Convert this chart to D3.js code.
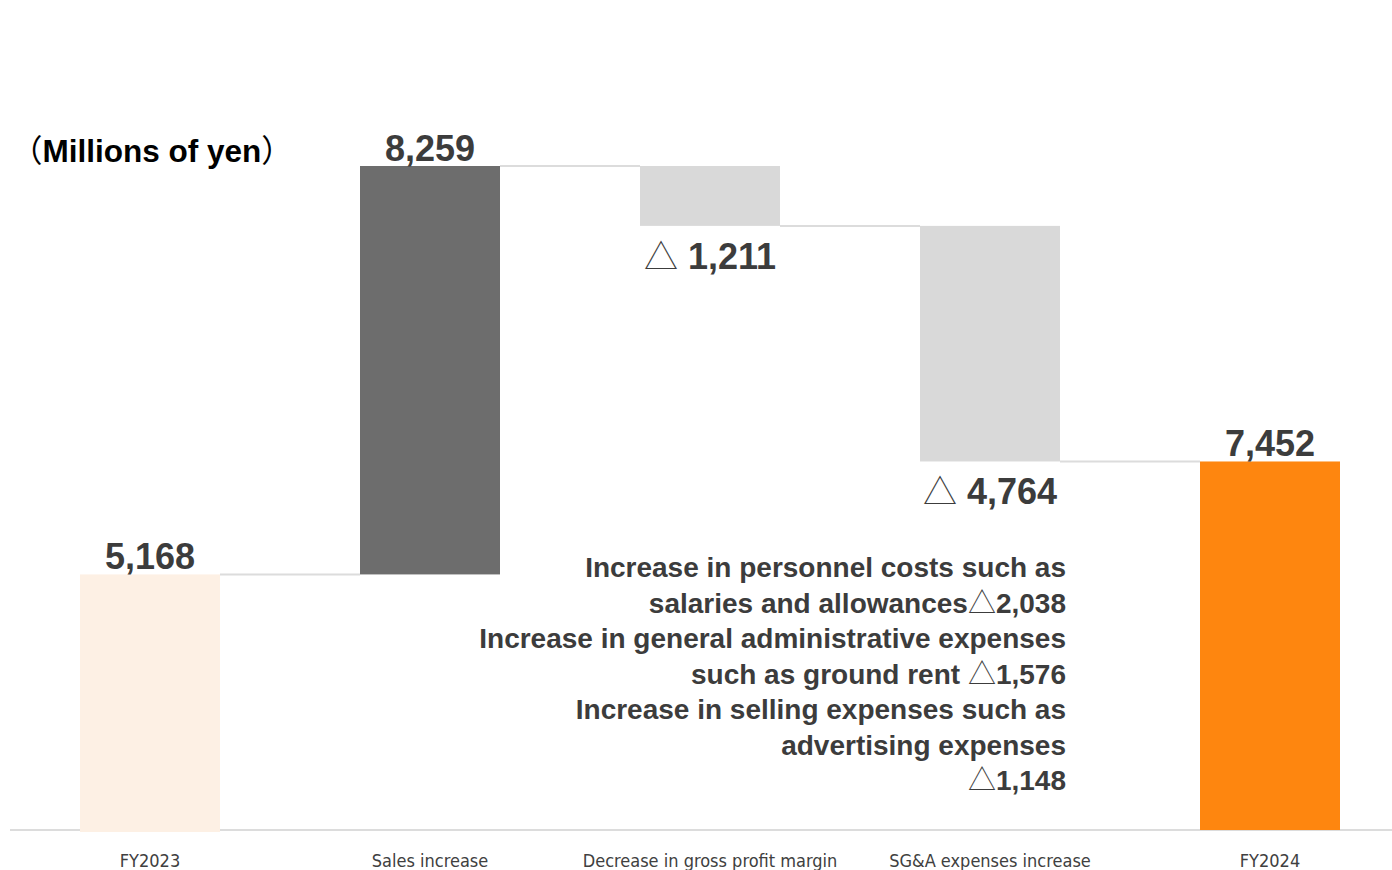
<!DOCTYPE html>
<html>
<head>
<meta charset="utf-8">
<script src="https://cdn.jsdelivr.net/npm/d3@7"></script>
<style>
  html, body { margin: 0; padding: 0; background: #fff; }
  svg { display: block; }
</style>
</head>
<body>
<svg id="chart" width="1392" height="870"></svg>
<script>
// Operating profit bridge, FY2023 → FY2024 (millions of yen)
const categories = ["FY2023", "Sales increase", "Decrease in gross profit margin", "SG&A expenses increase", "FY2024"];
const kinds      = ["total", "up", "down", "down", "total"];
const amounts    = [5168, 8259, -1211, -4764, 7452];
const barColors  = ["#fdf0e4", "#6d6d6d", "#d9d9d9", "#d9d9d9", "#fe860f"];

const unitLabel = ["（", "Millions of yen", "）"];
const noteLines = [
  ["Increase in personnel costs such as", ""],
  ["salaries and allowances", "△2,038"],
  ["Increase in general administrative expenses", ""],
  ["such as ground rent ", "△1,576"],
  ["Increase in selling expenses such as", ""],
  ["advertising expenses", ""],
  ["", "△1,148"]
];

// running totals for the floating segments
let running = 0;
const bars = categories.map((c, i) => {
  let y0, y1;
  if (kinds[i] === "total") { y0 = 0; y1 = amounts[i]; running = amounts[i]; }
  else { y0 = running; y1 = running + amounts[i]; running = y1; }
  return { cat: c, kind: kinds[i], value: amounts[i], lo: Math.min(y0, y1), hi: Math.max(y0, y1), end: y1, color: barColors[i], first: i === 0 };
});

const svg = d3.select("#chart");
const textColor = "#3c3c3c";
const numFont = "'Liberation Sans', Arial, sans-serif";
const cjkFont = "'Noto Sans CJK JP', sans-serif";

const x = d3.scaleBand().domain(categories).range([10, 1410]).paddingInner(0.5).paddingOuter(0.25);
const yMax = d3.max(bars, d => d.hi);
const y = d3.scaleLinear().domain([0, yMax]).range([830, 166]);

// baseline axis
const axis = d3.axisBottom(x).tickSize(0).tickPadding(0);
const axisG = svg.append("g").attr("transform", "translate(0,830)").call(axis);
axisG.select(".domain").remove();
svg.append("line").attr("x1", 10).attr("x2", 1392).attr("y1", 830).attr("y2", 830)
  .attr("stroke", "#dcdcdc").attr("stroke-width", 2);
axisG.selectAll(".tick text")
  .attr("y", 37).attr("dy", 0)
  .style("font-family", "'DejaVu Sans Condensed', 'DejaVu Sans', sans-serif")
  .style("font-size", "18px")
  .style("fill", "#404040");

// connectors between adjacent bars
svg.append("g").selectAll("line").data(bars.slice(0, -1)).join("line")
  .attr("x1", (d) => x(d.cat) + x.bandwidth())
  .attr("x2", (d, i) => x(categories[i + 1]))
  .attr("y1", d => y(d.end)).attr("y2", d => y(d.end))
  .attr("stroke", "#dcdcdc").attr("stroke-width", 2);

// bars
svg.append("g").selectAll("rect").data(bars).join("rect")
  .attr("x", d => x(d.cat))
  .attr("width", x.bandwidth())
  .attr("y", d => y(d.hi))
  .attr("height", d => y(d.lo) - y(d.hi) + (d.first ? 2 : 0))
  .attr("fill", d => d.color);

// value labels
const fmt = d3.format(",");
const labels = svg.append("g");
bars.forEach(d => {
  const cx = x(d.cat) + x.bandwidth() / 2;
  if (d.value >= 0) {
    labels.append("text")
      .attr("x", cx).attr("y", y(d.hi) - 5)
      .attr("text-anchor", "middle")
      .style("font-family", numFont).style("font-weight", "bold").style("font-size", "36px")
      .style("fill", textColor)
      .text(fmt(d.value));
  } else {
    const t = labels.append("text")
      .attr("x", cx).attr("y", y(d.lo) + 43)
      .attr("text-anchor", "middle")
      .style("font-size", "36px").style("fill", textColor);
    t.append("tspan").style("font-family", cjkFont).style("font-weight", "300").style("font-size", "34px").text("△");
    t.append("tspan").style("font-family", numFont).style("font-weight", "bold").text(" " + fmt(-d.value));
  }
});

// unit caption
const cap = svg.append("text").attr("x", 11).attr("y", 162)
  .style("font-family", numFont).style("font-weight", "bold").style("font-size", "31.5px")
  .style("fill", "#000");
cap.append("tspan").style("font-family", cjkFont).style("font-weight", "400").text(unitLabel[0]);
cap.append("tspan").text(unitLabel[1]);
cap.append("tspan").style("font-family", cjkFont).style("font-weight", "400").text(unitLabel[2]);

// breakdown note for SG&A
const note = svg.append("g");
noteLines.forEach((ln, i) => {
  const t = note.append("text")
    .attr("x", 1066).attr("y", 577 + i * 35.5)
    .attr("text-anchor", "end")
    .style("font-family", numFont).style("font-weight", "bold").style("font-size", "28px")
    .style("fill", textColor);
  if (ln[0]) t.append("tspan").text(ln[0]);
  if (ln[1]) {
    t.append("tspan").style("font-family", cjkFont).style("font-weight", "300").text(ln[1][0]);
    t.append("tspan").text(ln[1].slice(1));
  }
});
</script>
</body>
</html>
